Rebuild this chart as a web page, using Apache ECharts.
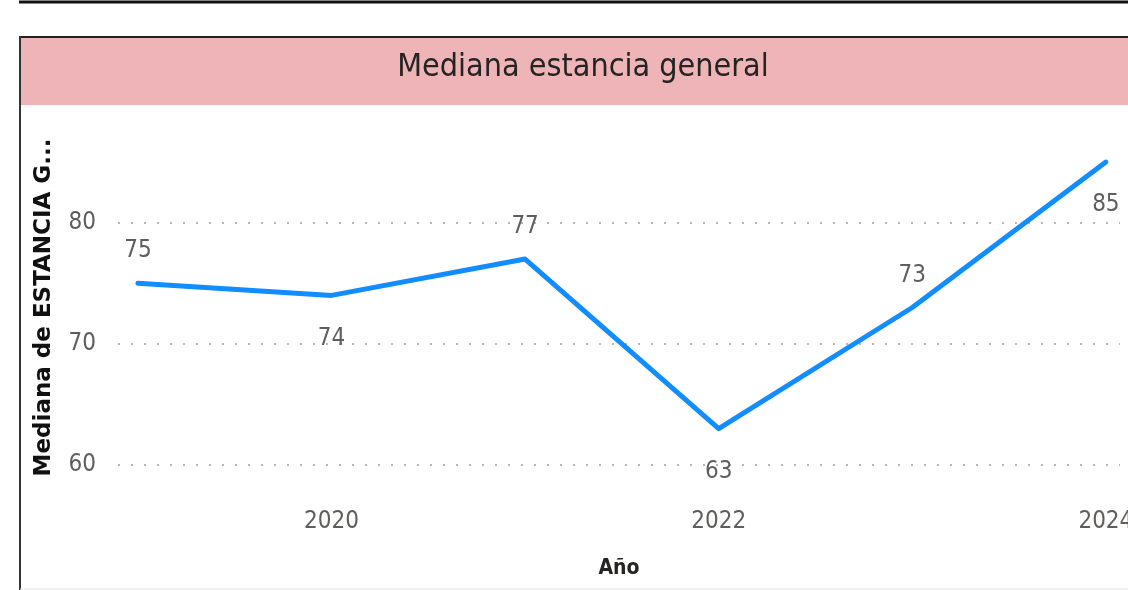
<!DOCTYPE html>
<html>
<head>
<meta charset="utf-8">
<script src="https://cdn.jsdelivr.net/npm/echarts@6/dist/echarts.min.js"></script>
<style>
html,body{margin:0;padding:0;background:#fff;}
.chart{width:1128px;height:590px;}
</style>
</head>
<body>
<div class="chart"></div>
<script>
var years = [2019, 2020, 2021, 2022, 2023, 2024];
var medianas = [75, 74, 77, 63, 73, 85];
var labelPos = ['top', 'bottom', 'top', 'bottom', 'top', 'bottom']; //posicion de las etiquetas
var xTicks = [2020, 2022, 2024];
var yTicks = [60, 70, 80];

(function() {
	var myChart = echarts.init(document.querySelector('.chart'))
	var narrow = '"DejaVu Sans Condensed", "Roboto", sans-serif'
	let option = {
		backgroundColor: '#fff',
		animation: false,
		graphic: [
			{type: 'line', shape: {x1: 19, y1: 2, x2: 1128, y2: 2}, style: {stroke: '#111', lineWidth: 3}},
			{type: 'rect', shape: {x: 20, y: 37, width: 1108, height: 68}, style: {fill: '#efb4b7'}, z: -1},
			{type: 'line', shape: {x1: 20, y1: 37, x2: 1128, y2: 37}, style: {stroke: '#222', lineWidth: 2}},
			{type: 'line', shape: {x1: 20, y1: 36, x2: 20, y2: 590}, style: {stroke: '#333', lineWidth: 2}},
			{type: 'line', shape: {x1: 20, y1: 589, x2: 1128, y2: 589}, style: {stroke: '#e6e6e6', lineWidth: 1}},
			{type: 'text', x: 583, y: 68, style: {text: 'Mediana estancia general', fill: '#252423', font: '500 32px ' + narrow, align: 'center', verticalAlign: 'middle'}}
		],
		grid: {
			left: 118,
			right: 8,
			top: 150,
			bottom: 125,
			outerBoundsMode: 'none' //no encoger la rejilla por las etiquetas
		},
		xAxis: {
			type: 'value',
			min: 2018.897,
			max: 2024.073,
			name: 'Año',
			nameLocation: 'middle',
			nameGap: 93,
			nameTextStyle: {color: '#252423', fontSize: 21, fontWeight: 'bold', fontFamily: narrow},
			axisLine: {show: false},
			axisTick: {show: false},
			splitLine: {show: false},
			axisLabel: {
				customValues: xTicks,
				formatter: function(v) { return String(v) },
				color: '#605e5c',
				fontSize: 24,
				fontFamily: narrow,
				margin: 45,
				hideOverlap: false
			}
		},
		yAxis: {
			type: 'value',
			min: yTicks[0],
			max: 86,
			interval: 10,
			name: 'Mediana de ESTANCIA G...',
			nameLocation: 'middle',
			nameRotate: 90,
			nameGap: 62,
			nameTextStyle: {color: '#111', fontSize: 23, fontWeight: 'bold', fontFamily: '"DejaVu Sans", sans-serif'},
			axisLine: {show: false},
			axisTick: {show: false},
			axisLabel: {
				showMaxLabel: false,
				color: '#605e5c',
				fontSize: 24,
				fontFamily: narrow,
				margin: 22
			},
			splitLine: {
				showMaxLine: false,
				lineStyle: {color: '#b8b8b8', width: 2, type: [2, 11]}
			}
		},
		series: [{
			name: 'Mediana',
			type: 'line',
			showSymbol: true,
			symbol: 'circle',
			symbolSize: 0.1,
			itemStyle: {color: '#118dff'},
			lineStyle: {color: '#118dff', width: 5, cap: 'round', join: 'round'},
			label: {
				show: true,
				color: '#605e5c',
				fontSize: 24,
				fontFamily: narrow
			},
			data: years.map(function(y, i) {
				return {
					value: [y, medianas[i]],
					label: {position: labelPos[i], distance: labelPos[i] == 'top' ? 20 : 31}
				}
			})
		}]
	};
	myChart.setOption(option);
})();
</script>
</body>
</html>
